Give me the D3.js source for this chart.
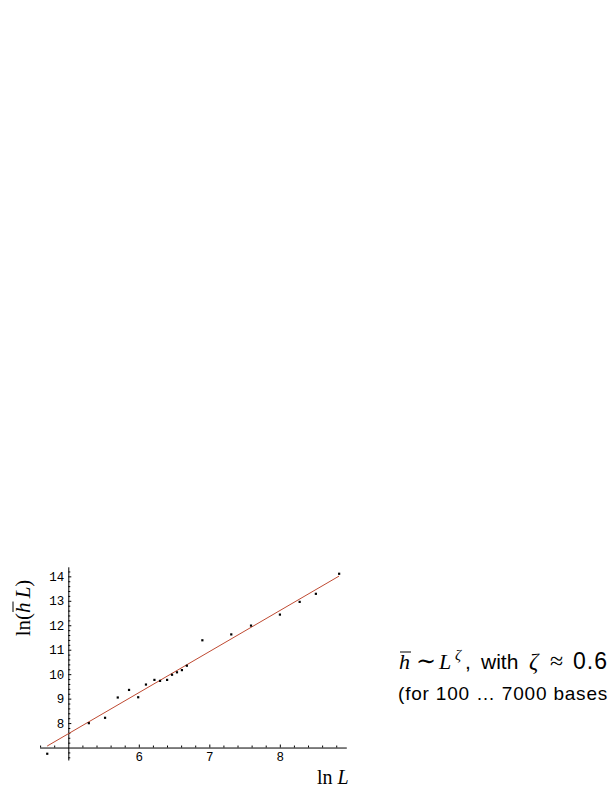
<!DOCTYPE html>
<html><head><meta charset="utf-8">
<script src="https://cdn.jsdelivr.net/npm/d3@7"></script>
<style>body{margin:0;background:#fff}svg{display:block}</style>
</head><body>
<svg id="c" width="612" height="792"></svg>
<script>
// ---- data ----
const lnL = [4.70, 5.29, 5.52, 5.70, 5.86, 5.99, 6.10, 6.22, 6.30, 6.40, 6.47, 6.54, 6.61, 6.68, 6.90, 7.31, 7.59, 8.00, 8.28, 8.51, 8.84];
const lnHL = [6.75, 8.00, 8.22, 9.05, 9.36, 9.06, 9.58, 9.77, 9.73, 9.77, 9.98, 10.08, 10.17, 10.35, 11.39, 11.63, 11.99, 12.44, 12.96, 13.29, 14.11];
const fitX = [4.70, 8.84];
const fitY = [7.06, 14.01];
const xTicks = [6, 7, 8];
const yTicks = [8, 9, 10, 11, 12, 13, 14];

const svg = d3.select('#c');
const x = d3.scaleLinear().domain([4.6, 8.95]).range([40.1, 346.8]);
const y = d3.scaleLinear().domain([6.47, 14.37]).range([760.5, 567.3]);
const X0 = x(5), Y0 = y(7);

// minor ticks
const xMinor = d3.range(4.6, 8.95, 0.2).map(v => +v.toFixed(2)).filter(v => Math.abs(v - Math.round(v)) > 1e-6);
const yMinor = d3.range(6.6, 14.37, 0.2).map(v => +v.toFixed(2)).filter(v => Math.abs(v - Math.round(v)) > 1e-6);

const tickFont = '"Liberation Mono", "DejaVu Sans Mono", monospace';

// x axis
const gx = svg.append('g').attr('transform', `translate(0,${Y0})`)
  .call(d3.axisBottom(x).tickValues(xTicks).tickSize(-3).tickPadding(5).tickFormat(d3.format('d')));
gx.append('g').call(d3.axisBottom(x).tickValues(xMinor).tickSize(-2).tickFormat(''))
  .select('.domain').remove();
gx.selectAll('text').attr('font-family', tickFont).attr('font-size', 12.5).attr('fill', '#000');
gx.selectAll('line,path').attr('stroke', '#000').attr('stroke-width', 1);

// y axis
const gy = svg.append('g').attr('transform', `translate(${X0},0)`)
  .call(d3.axisLeft(y).tickValues(yTicks).tickSize(-3).tickPadding(4).tickFormat(d3.format('d')));
gy.append('g').call(d3.axisLeft(y).tickValues(yMinor).tickSize(-2).tickFormat(''))
  .select('.domain').remove();
gy.selectAll('text').attr('font-family', tickFont).attr('font-size', 12.5).attr('fill', '#000');
gy.selectAll('line,path').attr('stroke', '#000').attr('stroke-width', 1);
gx.select('.domain').attr('d', `M${x(4.6)},0.5H${x(8.95)}`);
gy.select('.domain').attr('d', `M0.5,${y(6.47)}V${y(14.37)}`);

// fit line
svg.append('path')
  .datum(fitX.map((v, i) => [v, fitY[i]]))
  .attr('d', d3.line().x(d => x(d[0])).y(d => y(d[1])))
  .attr('fill', 'none').attr('stroke', '#bf4a32').attr('stroke-width', 1);

// points
svg.append('g').selectAll('rect').data(lnL).join('rect')
  .attr('x', (d) => x(d) - 1).attr('y', (d, i) => y(lnHL[i]) - 1)
  .attr('width', 2.2).attr('height', 2.2).attr('fill', '#000');

const serif = '"Liberation Serif", "DejaVu Serif", serif';
const sans = '"Liberation Sans", Arial, sans-serif';

// helper for overline on a char
function overline(textSel, idx, dy) {
  const box = textSel.node().getExtentOfChar(idx);
  const parent = d3.select(textSel.node().parentNode);
  parent.append('line')
    .attr('x1', box.x + 1).attr('x2', box.x + box.width + 1)
    .attr('y1', box.y + dy).attr('y2', box.y + dy)
    .attr('stroke', '#000').attr('stroke-width', 1);
}

// y label
const gyl = svg.append('g').attr('transform', 'translate(30,608) rotate(-90)');
const tyl = gyl.append('text').attr('text-anchor', 'middle').attr('font-family', serif).attr('font-size', 21);
tyl.append('tspan').text('ln(');
tyl.append('tspan').attr('font-style', 'italic').text('h');
tyl.append('tspan').text('\u2009');
tyl.append('tspan').attr('font-style', 'italic').text('L');
tyl.append('tspan').text(')');
overline(tyl, 3, 2);

// x label
const txl = svg.append('text').attr('x', 317).attr('y', 784).attr('font-family', serif).attr('font-size', 20);
txl.append('tspan').text('ln ');
txl.append('tspan').attr('font-style', 'italic').text('L');

// annotation
const g2 = svg.append('g');
const t1 = g2.append('text').attr('y', 669).attr('font-size', 22).attr('font-family', serif);
t1.append('tspan').attr('x', 399).attr('font-style', 'italic').text('h');
t1.append('tspan').attr('x', 416).attr('font-size', 24).text('\u223C');
t1.append('tspan').attr('x', 439).attr('font-style', 'italic').text('L');
t1.append('tspan').attr('x', 455).attr('font-style', 'italic').attr('font-size', 15).attr('dy', -9).text('\u03B6');
t1.append('tspan').attr('x', 465).attr('dy', 9).attr('font-family', sans).attr('font-size', 21).text(',');
t1.append('tspan').attr('x', 481).attr('font-family', sans).attr('font-size', 21).text('with');
t1.append('tspan').attr('x', 529).attr('font-style', 'italic').attr('font-size', 23).text('\u03B6');
t1.append('tspan').attr('x', 550).attr('font-size', 24).text('\u2248');
t1.append('tspan').attr('x', 573).attr('font-family', sans).attr('font-size', 23).attr('letter-spacing', 1).text('0.6');
overline(t1, 0, 3);

g2.append('text').attr('x', 398).attr('y', 700).attr('font-family', sans).attr('font-size', 19)
  .attr('letter-spacing', 0.8)
  .text('(for 100 \u2026 7000 bases');
</script>
</body></html>
